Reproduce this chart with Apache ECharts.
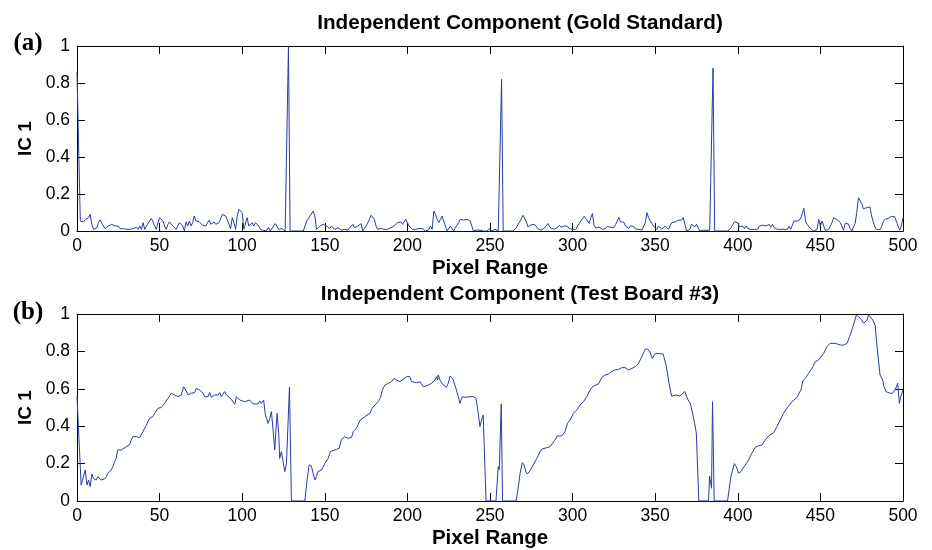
<!DOCTYPE html>
<html>
<head>
<meta charset="utf-8">
<script src="https://cdn.jsdelivr.net/npm/echarts@6/dist/echarts.min.js"></script>
<style>
  html, body { margin: 0; padding: 0; background: #fff; }
  #chart { width: 932px; height: 550px; }
</style>
</head>
<body>
<div id="chart"></div>
<script>
// ---------------- DATA ----------------
const panelTitles = ['Independent Component (Gold Standard)', 'Independent Component (Test Board #3)'];
const panelLetters = ['(a)', '(b)'];
const xAxisTitle = 'Pixel Range';
const yAxisTitle = 'IC 1';
const xTicks = [0, 50, 100, 150, 200, 250, 300, 350, 400, 450, 500];
const yTicks = [0, 0.2, 0.4, 0.6, 0.8, 1];

// (a) gold standard IC1, one value per pixel 0..500
const goldIC = [
  0.86, 0.86, 0.054, 0.054, 0.049, 0.063, 0.054, 0.072, 0.09, 0.036,
  0.009, 0.009, 0.018, 0.045, 0.06, 0.054, 0.027, 0.013, 0.018, 0.027,
  0.036, 0.036, 0.031, 0.027, 0.022, 0.027, 0.013, 0.009, 0.013, 0.005,
  0.009, 0.002, 0.009, 0.004, 0.013, 0.009, 0.02, 0.009, 0.027, 0.009,
  0.045, 0.009, 0.027, 0.036, 0.054, 0.068, 0.049, 0.027, 0.009, 0.045,
  0.072, 0.077, 0.054, 0.027, 0.009, 0.036, 0.049, 0.054, 0.027, 0.027,
  0.009, 0.018, 0.045, 0.036, 0.027, 0.0, 0.049, 0.027, 0.054, 0.027,
  0.045, 0.081, 0.054, 0.054, 0.05, 0.045, 0.031, 0.036, 0.027, 0.045,
  0.058, 0.036, 0.045, 0.049, 0.036, 0.036, 0.045, 0.04, 0.09, 0.095,
  0.081, 0.072, 0.036, 0.013, 0.072, 0.045, 0.009, 0.081, 0.117, 0.117,
  0.099, 0.009, 0.018, 0.072, 0.027, 0.036, 0.045, 0.027, 0.045, 0.036,
  0.027, 0.009, 0.004, 0.002, 0.009, 0.005, 0.018, 0.0, 0.009, 0.027,
  0.04, 0.027, 0.009, 0.009, 0.013, 0.004, 0.0, 0.0, 1.0, 0.0,
  0, 0, 0, 0, 0, 0, 0, 0, 0, 0.054,
  0.063, 0.081, 0.09, 0.108, 0.081, 0.009, 0.009, 0.027, 0.036, 0.036,
  0.041, 0.027, 0.018, 0.013, 0.027, 0.018, 0.009, 0.009, 0.018, 0.009,
  0.004, 0.005, 0.009, 0.013, 0.005, 0.018, 0.027, 0.036, 0.018, 0.009,
  0.027, 0.027, 0.04, 0.0, 0.013, 0.027, 0.045, 0.063, 0.085, 0.09,
  0.063, 0.027, 0.009, 0.018, 0.013, 0.004, 0.009, 0.0, 0.009, 0.016,
  0.018, 0.027, 0.027, 0.036, 0.045, 0.04, 0.049, 0.036, 0.045, 0.063,
  0.054, 0.027, 0.027, 0.009, 0.016, 0.009, 0.0, 0.014, 0.009, 0.013,
  0.009, 0.0, 0.009, 0.009, 0.027, 0.009, 0.108, 0.09, 0.063, 0.045,
  0.063, 0.081, 0.09, 0.027, 0.0, 0.009, 0.027, 0.036, 0.0, 0.018,
  0.027, 0.045, 0.063, 0.063, 0.059, 0.054, 0.063, 0.054, 0.054, 0.045,
  0.0, 0.009, 0.005, 0.005, 0.004, 0.004, 0.0, 0.0, 0.0, 0.009,
  0.013, 0.0, 0.0, 0.009, 0.013, 0.0, 0.009, 0.82, 0.0, 0.0,
  0, 0, 0, 0, 0, 0, 0.018, 0.036, 0.05, 0.068,
  0.085, 0.076, 0.049, 0.022, 0.027, 0.034, 0.032, 0.036, 0.029, 0.013,
  0.009, 0.005, 0.009, 0.016, 0.025, 0.04, 0.031, 0.013, 0.016, 0.011,
  0.005, 0.02, 0.031, 0.02, 0.027, 0.027, 0.02, 0.025, 0.013, 0.016,
  0.009, 0.011, 0.009, 0.027, 0.04, 0.056, 0.067, 0.079, 0.081, 0.054,
  0.041, 0.07, 0.094, 0.031, 0.016, 0.025, 0.022, 0.014, 0.009, 0.009,
  0.013, 0.025, 0.027, 0.02, 0.011, 0.02, 0.034, 0.032, 0.074, 0.05,
  0.054, 0.047, 0.027, 0.027, 0.014, 0.027, 0.034, 0.025, 0.011, 0.016,
  0.009, 0.009, 0.005, 0.014, 0.045, 0.099, 0.072, 0.054, 0.045, 0.027,
  0.036, 0.009, 0.027, 0.036, 0.009, 0.0, 0.027, 0.018, 0.009, 0.005,
  0.045, 0.054, 0.049, 0.054, 0.059, 0.063, 0.059, 0.072, 0.072, 0.0,
  0.009, 0.009, 0.036, 0.036, 0.023, 0.036, 0.036, 0.0, 0.0, 0.004,
  0.004, 0.004, 0.004, 0.004, 0.004, 0.88, 0, 0, 0, 0,
  0, 0, 0, 0, 0, 0.005, 0.018, 0.036, 0.05, 0.052,
  0.045, 0.023, 0.018, 0.027, 0.013, 0.027, 0.013, 0.011, 0.009, 0.005,
  0.009, 0.005, 0.009, 0.027, 0.036, 0.031, 0.031, 0.027, 0.027, 0.036,
  0.02, 0.036, 0.018, 0.027, 0.009, 0.005, 0.009, 0.0, 0.009, 0.018,
  0.009, 0.027, 0.009, 0.031, 0.054, 0.063, 0.054, 0.045, 0.065, 0.094,
  0.122, 0.054, 0.036, 0.027, 0.013, 0.009, 0.0, 0.009, 0.009, 0.063,
  0.027, 0.054, 0.027, 0.004, 0.0, 0.009, 0.009, 0.045, 0.072, 0.068,
  0.063, 0.054, 0.045, 0.027, 0.004, 0.041, 0.05, 0.038, 0.013, 0.0,
  0.0, 0.041, 0.099, 0.18, 0.174, 0.149, 0.12, 0.126, 0.126, 0.131,
  0.13, 0.081, 0.049, 0.022, 0.009, 0.004, 0.007, 0.023, 0.049, 0.063,
  0.059, 0.068, 0.076, 0.079, 0.088, 0.077, 0.076, 0.027, 0.005, 0.027,
  0.072
];

// (b) test board #3 IC1, pixel positions and values
const testPixel = [
  0, 2.5, 3.5, 5.0, 6.0, 7.0, 8.0, 9.0, 10.0, 11.0, 11.6, 12.6, 13.6, 14.6, 15.3, 16.7, 17.7, 18.7,
  20.7, 21.7, 22.7, 23.7, 24.7, 25.8, 26.8, 27.8, 29.8, 30.8, 31.8, 32.8, 33.8, 34.8, 35.9, 37.9,
  38.9, 39.9, 40.9, 41.9, 42.9, 43.9, 45.9, 47.0, 49.0, 51.0, 53.0, 55.1, 57.1, 59.1, 61.1, 63.1,
  64.5, 65.8, 67.2, 69.2, 71.2, 72.2, 74.2, 76.3, 77.3, 79.3, 80.3, 81.3, 83.3, 85.4, 86.4, 87.4,
  89.4, 90.4, 91.4, 93.4, 94.4, 95.5, 96.5, 98.5, 99.5, 101.5, 102.5, 104.5, 105.6, 106.6, 107.6,
  109.6, 110.6, 111.6, 113.0, 114.0, 115.1, 115.7, 116.7, 117.7, 118.7, 119.7, 121.1, 122.1, 122.7,
  123.7, 124.7, 125.8, 126.8, 127.8, 128.6, 129.8, 137.9, 139.3, 140.5, 141.9, 142.9, 144.1, 144.9,
  145.9, 148.0, 150.0, 152.0, 153.4, 154.6, 157.1, 158.7, 160.1, 162.1, 164.1, 166.2, 167.2, 169.2,
  171.2, 174.2, 177.3, 178.7, 180.3, 182.3, 183.7, 184.9, 186.4, 188.4, 190.4, 192.0, 193.4, 195.5,
  197.5, 199.5, 201.5, 202.5, 205.6, 207.6, 209.6, 210.6, 212.6, 214.6, 216.7, 217.7, 218.3, 218.7,
  219.7, 221.7, 223.7, 224.7, 225.8, 227.4, 229.4, 230.8, 231.8, 233.2, 234.8, 237.9, 239.9, 241.5,
  242.9, 243.9, 244.9, 245.9, 247.6, 253.6, 255.0, 255.6, 256.8, 257.6, 265.8, 267.2, 268.2, 269.6,
  270.6, 271.8, 272.6, 274.2, 276.2, 278.3, 280.3, 281.3, 284.3, 286.3, 287.3, 289.3, 290.8, 293.4,
  295.4, 296.9, 298.5, 300.5, 302.5, 304.5, 306.6, 308.6, 310.6, 312.6, 315.7, 317.7, 319.7, 321.7,
  323.7, 325.8, 327.8, 329.8, 331.8, 333.8, 335.9, 337.9, 339.9, 341.9, 343.9, 345.3, 346.9, 348.3,
  350.2, 354.8, 356.8, 358.4, 359.9, 362.9, 364.9, 367.9, 369.9, 371.3, 373.9, 374.9, 376.4, 382.3,
  382.9, 384.1, 384.7, 385.1, 385.7, 393.8, 395.8, 397.9, 399.1, 400.5, 401.9, 403.9, 406.5, 408.5,
  410.6, 412.6, 414.6, 416.6, 418.6, 421.7, 423.7, 425.7, 427.7, 429.7, 432.8, 435.8, 438.2, 439.4,
  440.9, 442.9, 444.9, 446.9, 448.9, 452.0, 454.0, 455.9, 459.0, 462.1, 464.1, 466.1, 467.7, 469.7,
  471.8, 472.2, 474.2, 476.2, 478.2, 479.2, 480.2, 481.7, 483.1, 484.5, 486.1, 487.7, 488.5, 489.7,
  492.2, 493.6, 495.2, 496.2, 496.8, 497.8, 498.6, 500
];
const testIC = [
  0.56, 0.085, 0.077, 0.166, 0.085, 0.112, 0.077, 0.144, 0.12, 0.13, 0.112, 0.13, 0.12, 0.112, 0.103, 0.118, 0.13, 0.148,
  0.166, 0.184, 0.21, 0.228, 0.273, 0.28, 0.273, 0.28, 0.29, 0.285, 0.3, 0.326, 0.344, 0.353, 0.344, 0.339,
  0.344, 0.37, 0.389, 0.403, 0.424, 0.442, 0.451, 0.469, 0.496, 0.5, 0.522, 0.549, 0.576, 0.567, 0.558, 0.567,
  0.611, 0.594, 0.567, 0.576, 0.58, 0.602, 0.594, 0.576, 0.558, 0.558, 0.58, 0.555, 0.567, 0.567, 0.58, 0.558,
  0.585, 0.567, 0.558, 0.544, 0.54, 0.517, 0.558, 0.54, 0.531, 0.531, 0.522, 0.54, 0.531, 0.519, 0.526,
  0.519, 0.535, 0.522, 0.54, 0.46, 0.433, 0.415, 0.442, 0.478, 0.38, 0.273, 0.469, 0.362, 0.228,
  0.264, 0.255, 0.157, 0.2, 0.193, 0.608, 0, 0, 0.112, 0.193, 0.187, 0.148, 0.112, 0.13,
  0.157, 0.166, 0.2, 0.228, 0.264, 0.273, 0.276, 0.282, 0.33, 0.344, 0.335, 0.34, 0.371, 0.389,
  0.43, 0.451, 0.469, 0.496, 0.513, 0.531, 0.553, 0.594, 0.62, 0.629, 0.638, 0.656, 0.647, 0.638,
  0.651, 0.665, 0.665, 0.638, 0.633, 0.638, 0.611, 0.608, 0.62, 0.629, 0.647, 0.665, 0.647, 0.674,
  0.647, 0.62, 0.608, 0.629, 0.668, 0.656, 0.602, 0.558, 0.522, 0.558, 0.554, 0.558, 0.558, 0.55,
  0.469, 0.398, 0.433, 0.46, 0, 0, 0.184, 0.166, 0.519, 0, 0, 0.077, 0.148, 0.205,
  0.193, 0.157, 0.144, 0.162, 0.193, 0.228, 0.264, 0.278, 0.285, 0.29, 0.3, 0.326, 0.348, 0.348,
  0.371, 0.415, 0.433, 0.469, 0.487, 0.513, 0.531, 0.558, 0.594, 0.615, 0.626, 0.661, 0.674, 0.679,
  0.692, 0.701, 0.704, 0.713, 0.713, 0.701, 0.709, 0.718, 0.736, 0.772, 0.811, 0.813, 0.795, 0.763,
  0.79, 0.786, 0.718, 0.629, 0.561, 0.567, 0.561, 0.585, 0.54, 0.522, 0.415, 0.362, 0, 0,
  0.134, 0.068, 0.531, 0.531, 0, 0, 0.13, 0.2, 0.184, 0.148, 0.157, 0.184, 0.219, 0.255,
  0.287, 0.296, 0.299, 0.326, 0.348, 0.365, 0.398, 0.433, 0.469, 0.496, 0.531, 0.554, 0.594, 0.643,
  0.656, 0.683, 0.709, 0.745, 0.754, 0.79, 0.825, 0.843, 0.843, 0.834, 0.834, 0.843, 0.879, 0.932,
  0.995, 1.0, 0.977, 0.95, 0.968, 0.995, 1.0, 0.968, 0.941, 0.807, 0.674, 0.647, 0.611, 0.585,
  0.576, 0.576, 0.594, 0.602, 0.629, 0.522, 0.558, 0.594
];

// ---------------- CHART ----------------
const FONT = '"Liberation Sans", Arial, Helvetica, sans-serif';
const LINE_COLOR = '#2a3ca6';
const chart = echarts.init(document.getElementById('chart'), null, { renderer: 'canvas' });

const grids = [
  { left: 77, top: 46, width: 826, height: 185 },
  { left: 77, top: 314, width: 826, height: 187 }
];

function mainX(gi) {
  return {
    gridIndex: gi, type: 'value', position: 'bottom',
    min: xTicks[0], max: xTicks[xTicks.length - 1], interval: xTicks[1] - xTicks[0],
    axisLine: { show: true, onZero: false, lineStyle: { color: '#000', width: 1 } },
    axisTick: { show: true, inside: true, length: 8, lineStyle: { color: '#000', width: 1 } },
    axisLabel: { show: true, color: '#000', fontSize: 17.5, fontFamily: FONT, margin: 6 },
    splitLine: { show: false },
    name: xAxisTitle, nameLocation: 'middle', nameGap: 27,
    nameTextStyle: { color: '#000', fontSize: 20.5, fontWeight: 'bold', fontFamily: FONT }
  };
}
function topX(gi) {
  return {
    gridIndex: gi, type: 'value', position: 'top',
    min: xTicks[0], max: xTicks[xTicks.length - 1], interval: xTicks[1] - xTicks[0],
    axisLine: { show: true, onZero: false, lineStyle: { color: '#000', width: 1 } },
    axisTick: { show: true, inside: true, length: 8, lineStyle: { color: '#000', width: 1 } },
    axisLabel: { show: false }, splitLine: { show: false }
  };
}
function mainY(gi) {
  return {
    gridIndex: gi, type: 'value', position: 'left',
    min: yTicks[0], max: yTicks[yTicks.length - 1], interval: yTicks[1] - yTicks[0],
    axisLine: { show: true, onZero: false, lineStyle: { color: '#000', width: 1 } },
    axisTick: { show: true, inside: true, length: 8, lineStyle: { color: '#000', width: 1 } },
    axisLabel: { show: true, color: '#000', fontSize: 17.5, fontFamily: FONT, margin: 7 },
    splitLine: { show: false },
    name: yAxisTitle, nameLocation: 'middle', nameGap: 39, nameRotate: 90,
    nameTextStyle: { color: '#000', fontSize: 19, fontWeight: 'bold', fontFamily: FONT }
  };
}
function rightY(gi) {
  return {
    gridIndex: gi, type: 'value', position: 'right',
    min: yTicks[0], max: yTicks[yTicks.length - 1], interval: yTicks[1] - yTicks[0],
    axisLine: { show: true, onZero: false, lineStyle: { color: '#000', width: 1 } },
    axisTick: { show: true, inside: true, length: 8, lineStyle: { color: '#000', width: 1 } },
    axisLabel: { show: false }, splitLine: { show: false }
  };
}

const goldData = goldIC.map((v, i) => [i, v]);
const testData = testIC.map((v, i) => [testPixel[i], v]);

const titleX = 520;
const titleY = [23, 294];
const letterY = [44, 313];

const graphics = [];
for (let p = 0; p < 2; p++) {
  graphics.push({
    type: 'text', x: titleX, y: titleY[p],
    style: { text: panelTitles[p], textAlign: 'center', textVerticalAlign: 'middle',
      font: 'bold 20.7px ' + FONT, fill: '#000' }
  });
  graphics.push({
    type: 'text', x: 28, y: letterY[p],
    style: { text: panelLetters[p], textAlign: 'center', textVerticalAlign: 'middle',
      font: 'bold 25px "Liberation Serif", "Times New Roman", serif', fill: '#000' }
  });
}

chart.setOption({
  animation: false,
  backgroundColor: '#fff',
  grid: grids,
  xAxis: [mainX(0), topX(0), mainX(1), topX(1)],
  yAxis: [mainY(0), rightY(0), mainY(1), rightY(1)],
  graphic: graphics,
  series: [
    { type: 'line', xAxisIndex: 0, yAxisIndex: 0, data: goldData, showSymbol: false, symbol: 'none',
      lineStyle: { color: LINE_COLOR, width: 1 }, clip: true },
    { type: 'line', xAxisIndex: 2, yAxisIndex: 2, data: testData, showSymbol: false, symbol: 'none',
      lineStyle: { color: LINE_COLOR, width: 1 }, clip: true }
  ]
});
</script>
</body>
</html>
